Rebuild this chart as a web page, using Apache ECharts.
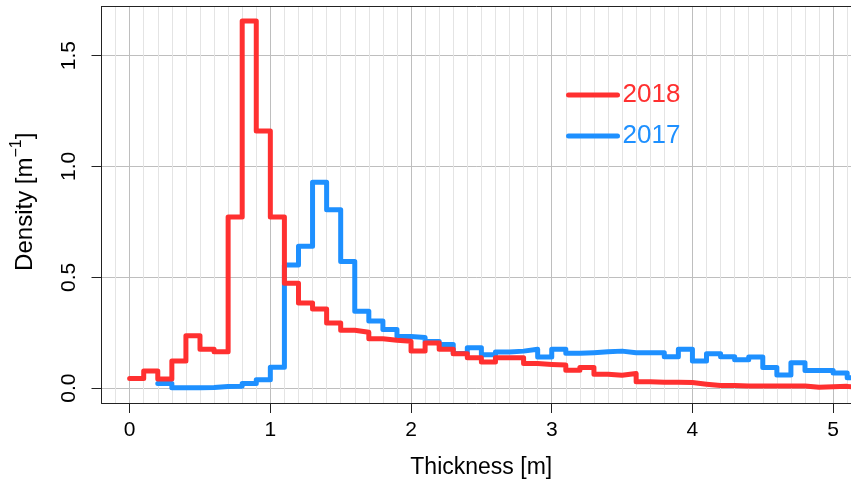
<!DOCTYPE html>
<html><head><meta charset="utf-8">
<script src="https://cdn.jsdelivr.net/npm/echarts@6/dist/echarts.min.js"></script>
<style>html,body{margin:0;padding:0;background:#fff}#c{width:851px;height:484px}</style>
</head><body><div id="c"></div>
<script>
// ---- data (bin width 0.1 m) ----
const binWidth = 0.1;
const seriesNames = ['2018', '2017'];
const start2018 = 0.0;
const density2018 = [0.044, 0.077, 0.041, 0.123, 0.236, 0.175, 0.164, 0.772, 1.656, 1.16,
  0.772, 0.473, 0.384, 0.357, 0.294, 0.261, 0.252, 0.223, 0.216, 0.212,
  0.167, 0.204, 0.175, 0.155, 0.137, 0.118, 0.137, 0.137, 0.111, 0.107,
  0.104, 0.081, 0.093, 0.063, 0.058, 0.066, 0.029, 0.027, 0.027, 0.025,
  0.018, 0.012, 0.012, 0.010, 0.010, 0.010, 0.010, 0.010, 0.004, 0.006,
  0.008, 0.001];
const start2017 = 0.2;
const density2017 = [0.021, 0.002, 0.002, 0.003, 0.007, 0.008, 0.021, 0.038,
  0.094, 0.555, 0.64, 0.929, 0.805, 0.571, 0.347, 0.303, 0.265, 0.233,
  0.228, 0.21, 0.197, 0.156, 0.182, 0.151, 0.163, 0.167, 0.175, 0.14,
  0.175, 0.157, 0.16, 0.164, 0.167, 0.16, 0.16, 0.16, 0.142, 0.175,
  0.123, 0.155, 0.142, 0.128, 0.141, 0.093, 0.059, 0.115, 0.08, 0.08,
  0.068, 0.047];
const xTicks = [0, 1, 2, 3, 4, 5];
const yTicks = [0, 0.5, 1.0, 1.5];

const RED = '#FF3030', BLUE = '#1E90FF';
const FONT = "'Liberation Sans', Arial, Helvetica, sans-serif";

function steps(start, vals) {
  const pts = vals.map((v, i) => [+(start + i * binWidth).toFixed(2), v]);
  pts.push([+(start + vals.length * binWidth).toFixed(2), vals[vals.length - 1]]);
  return pts;
}

const chart = echarts.init(document.getElementById('c'), null, {renderer: 'canvas'});
const XMIN = -0.2, XMAX = 5.127, YMIN = -0.067, YMAX = 1.7215;
chart.setOption({
  animation: false,
  backgroundColor: '#fff',
  textStyle: {fontFamily: FONT},
  grid: {left: 101.5, right: 0, top: 6.5, bottom: 78.3, containLabel: false},
  legend: {
    orient: 'vertical', left: 566, top: 82, padding: 0,
    itemWidth: 49, itemHeight: 3, itemGap: 15,
    textStyle: {fontSize: 26, fontFamily: FONT},
    lineStyle: {width: 5, cap: 'round'},
    data: [
      {name: seriesNames[0], textStyle: {color: RED}},
      {name: seriesNames[1], textStyle: {color: BLUE}}
    ]
  },
  xAxis: [
    {
      type: 'value', position: 'top', min: XMIN, max: XMAX, interval: 0.1,
      axisLine: {show: true, onZero: false, lineStyle: {color: '#222', width: 1}},
      axisTick: {show: false}, axisLabel: {show: false},
      splitLine: {show: true, lineStyle: {color: '#e4e4e4', width: 1}}
    },
    {
      type: 'value', position: 'bottom', min: XMIN, max: XMAX,
      axisLine: {show: true, onZero: false, lineStyle: {color: '#222', width: 1}},
      axisTick: {show: true, customValues: xTicks, length: 10, lineStyle: {color: '#222'}},
      axisLabel: {customValues: xTicks, margin: 17, fontSize: 21, color: '#000', fontFamily: FONT},
      splitLine: {show: true, lineStyle: {color: '#bebebe', width: 1}},
      name: 'Thickness [m]', nameLocation: 'middle', nameGap: 53,
      nameTextStyle: {fontSize: 23, color: '#000', fontFamily: FONT, padding: [0, 0, 0, 10]}
    }
  ],
  yAxis: [{
    type: 'value', min: YMIN, max: YMAX,
    axisLine: {show: true, onZero: false, lineStyle: {color: '#222', width: 1}},
    axisTick: {show: true, customValues: yTicks, length: 10, lineStyle: {color: '#222'}},
    axisLabel: {customValues: yTicks, rotate: 90, margin: 22, fontSize: 21, color: '#000',
      fontFamily: FONT, formatter: v => v.toFixed(1)},
    splitLine: {show: true, lineStyle: {color: '#bebebe', width: 1}},
    name: '{a|Density [m}{s|−1}{a|]}', nameLocation: 'middle', nameGap: 64, nameRotate: 90,
    nameTextStyle: {color: '#000', fontFamily: FONT, padding: [0, 0, 0, 6], rich: {
      a: {fontSize: 24, color: '#000', fontFamily: FONT, lineHeight: 29, verticalAlign: 'bottom'},
      s: {fontSize: 16, color: '#000', fontFamily: FONT, lineHeight: 29, verticalAlign: 'top'}
    }}
  }],
  series: [
    {
      name: seriesNames[1], type: 'line', step: 'end', xAxisIndex: 1, yAxisIndex: 0,
      data: steps(start2017, density2017), symbol: 'none', showSymbol: false,
      color: BLUE, lineStyle: {color: BLUE, width: 5, cap: 'round', join: 'round'}, z: 3
    },
    {
      name: seriesNames[0], type: 'line', step: 'end', xAxisIndex: 1, yAxisIndex: 0,
      data: steps(start2018, density2018), symbol: 'none', showSymbol: false,
      color: RED, lineStyle: {color: RED, width: 5, cap: 'round', join: 'round'}, z: 4
    }
  ]
});
</script></body></html>
